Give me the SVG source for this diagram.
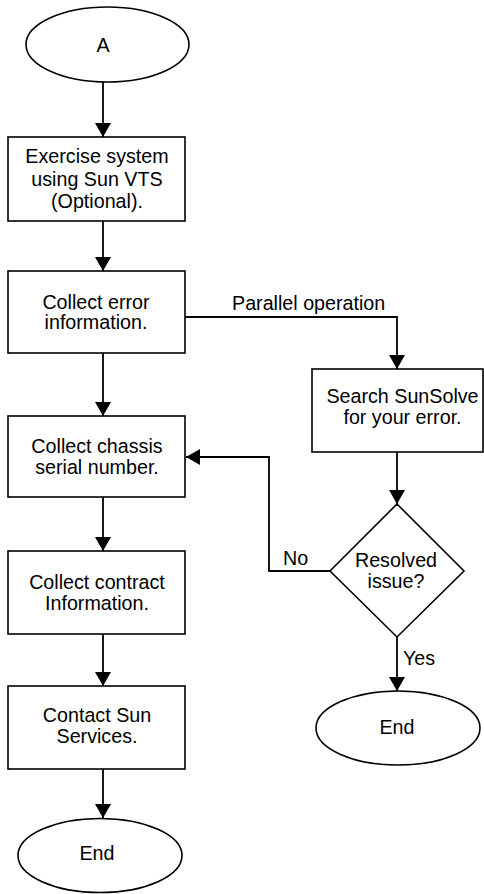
<svg xmlns="http://www.w3.org/2000/svg" width="484" height="894" viewBox="0 0 484 894">
<style>
.shape{fill:#fff;stroke:#000;stroke-width:1.6}
.conn{fill:none;stroke:#000;stroke-width:1.8}
text{font-family:"Liberation Sans",Arial,Helvetica,sans-serif;font-size:19.7px;fill:#000}
.c{text-anchor:middle}
</style>
<defs>
<marker id="arr" viewBox="0 0 14 16" refX="14" refY="8" markerWidth="14" markerHeight="16" markerUnits="userSpaceOnUse" orient="auto">
<path d="M0,0 L14,8 L0,16 z" fill="#000"/>
</marker>
</defs>
<g id="connectors">
<path class="conn" d="M103,82 V137" marker-end="url(#arr)"/>
<path class="conn" d="M103,221 V271" marker-end="url(#arr)"/>
<path class="conn" d="M185,317 H397 V369" marker-end="url(#arr)"/>
<path class="conn" d="M103,353 V416" marker-end="url(#arr)"/>
<path class="conn" d="M397,452 V504" marker-end="url(#arr)"/>
<path class="conn" d="M330,571 H269 V457 H186" marker-end="url(#arr)"/>
<path class="conn" d="M103,497 V551" marker-end="url(#arr)"/>
<path class="conn" d="M103,634 V686" marker-end="url(#arr)"/>
<path class="conn" d="M103,769 V818" marker-end="url(#arr)"/>
<path class="conn" d="M397,637 V691" marker-end="url(#arr)"/>
<text x="232" y="310">Parallel operation</text>
<text x="283" y="565">No</text>
<text x="403" y="665">Yes</text>
</g>
<g id="start">
<ellipse class="shape" cx="107.5" cy="44.5" rx="81.5" ry="37.5"/>
<text class="c" x="103" y="52">A</text>
</g>
<g id="exercise">
<rect class="shape" x="8" y="137" width="177" height="84"/>
<text class="c" x="97" y="163">Exercise system</text>
<text class="c" x="97" y="186">using Sun VTS</text>
<text class="c" x="97" y="208">(Optional).</text>
</g>
<g id="collect-error">
<rect class="shape" x="8" y="271" width="177" height="82"/>
<text class="c" x="96" y="308.5">Collect error</text>
<text class="c" x="96" y="329">information.</text>
</g>
<g id="collect-chassis">
<rect class="shape" x="8" y="416" width="177" height="81"/>
<text class="c" x="97" y="453">Collect chassis</text>
<text class="c" x="97" y="473.5">serial number.</text>
</g>
<g id="collect-contract">
<rect class="shape" x="8" y="551" width="177" height="83"/>
<text class="c" x="97" y="589">Collect contract</text>
<text class="c" x="97" y="609.5">Information.</text>
</g>
<g id="contact-sun">
<rect class="shape" x="8" y="686" width="177" height="83"/>
<text class="c" x="97" y="722">Contact Sun</text>
<text class="c" x="97" y="743">Services.</text>
</g>
<g id="end-left">
<ellipse class="shape" cx="100" cy="855.5" rx="82" ry="37"/>
<text class="c" x="97" y="860">End</text>
</g>
<g id="search">
<rect class="shape" x="312" y="369" width="171" height="83"/>
<text class="c" x="402.5" y="403">Search SunSolve</text>
<text class="c" x="402.5" y="423.5">for your error.</text>
</g>
<g id="resolved">
<polygon class="shape" points="397,504 464,571 397,637 330,571"/>
<text class="c" x="396" y="567">Resolved</text>
<text class="c" x="396" y="587.5">issue?</text>
</g>
<g id="end-right">
<ellipse class="shape" cx="398" cy="728" rx="82" ry="37"/>
<text class="c" x="397" y="734">End</text>
</g>
</svg>
